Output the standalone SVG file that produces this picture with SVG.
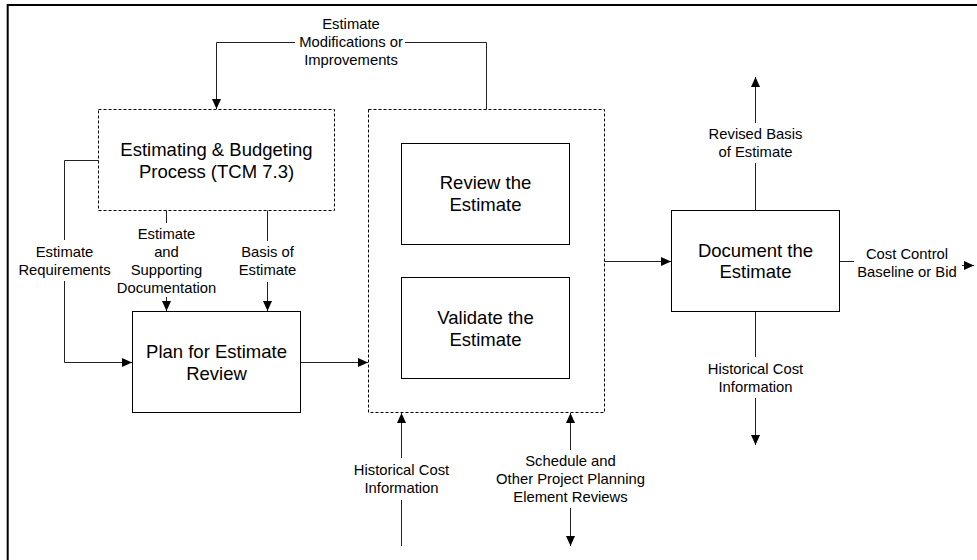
<svg xmlns="http://www.w3.org/2000/svg" width="977" height="560" viewBox="0 0 977 560">
<defs>
<marker id="ah" markerUnits="userSpaceOnUse" markerWidth="11" markerHeight="10" refX="10" refY="4.5" orient="auto">
<path d="M0,0 L10,4.5 L0,9 z" fill="#000"/>
</marker>
<style>
.box{fill:#fff;stroke:#000;stroke-width:1}
.dash{fill:none;stroke:#000;stroke-width:1;stroke-dasharray:3,2}
.big{font-family:"Liberation Sans",Arial,sans-serif;font-size:18.5px;text-anchor:middle;fill:#000}
.lbl{font-family:"Liberation Sans",Arial,sans-serif;font-size:14.8px;text-anchor:middle;fill:#000}
.con{fill:none;stroke:#222;stroke-width:1}
.arr{marker-end:url(#ah)}
</style>
</defs>
<rect x="0" y="0" width="977" height="560" fill="#fff"/>
<path d="M7.7,570 V5 H990" fill="none" stroke="#000" stroke-width="2"/>

<g id="connectors">
<path class="con arr" d="M486.5,109.5 V42.5 H405 M295,42.5 H216.5 V109"/>
<path class="con arr" d="M98.5,160.5 H64.5 V240 M64.5,281 V362.5 H132"/>
<path class="con arr" d="M166.5,210.5 V223 M166.5,297 V311"/>
<path class="con arr" d="M267.5,210.5 V241 M267.5,282 V311"/>
<path class="con arr" d="M300.5,362.5 H368"/>
<path class="con arr" d="M604.5,261.5 H671"/>
<path class="con arr" d="M755.5,210.5 V163 M755.5,123 V77"/>
<path class="con arr" d="M839.5,261.5 H854 M962,265.5 H974"/>
<path class="con arr" d="M755.5,311.5 V357 M755.5,398 V445"/>
<path class="con arr" d="M401.5,546 V500 M401.5,458 V413"/>
<path class="con arr" d="M570.5,450 V413"/>
<path class="con arr" d="M570.5,508 V546"/>
</g>

<g id="labels">
<text class="lbl" x="351" y="29.3">Estimate</text>
<text class="lbl" x="351" y="47.3">Modifications or</text>
<text class="lbl" x="351" y="65.3">Improvements</text>
<text class="lbl" x="64.5" y="257.3">Estimate</text>
<text class="lbl" x="64.5" y="275.3">Requirements</text>
<text class="lbl" x="166.5" y="239.3">Estimate</text>
<text class="lbl" x="166.5" y="257.3">and</text>
<text class="lbl" x="166.5" y="275.3">Supporting</text>
<text class="lbl" x="166.5" y="293.3">Documentation</text>
<text class="lbl" x="267.5" y="257.3">Basis of</text>
<text class="lbl" x="267.5" y="275.3">Estimate</text>
<text class="lbl" x="401.5" y="475.3">Historical Cost</text>
<text class="lbl" x="401.5" y="493.3">Information</text>
<text class="lbl" x="570.5" y="466">Schedule and</text>
<text class="lbl" x="570.5" y="484">Other Project Planning</text>
<text class="lbl" x="570.5" y="502">Element Reviews</text>
<text class="lbl" x="755.5" y="139.3">Revised Basis</text>
<text class="lbl" x="755.5" y="157.3">of Estimate</text>
<text class="lbl" x="907" y="259.3">Cost Control</text>
<text class="lbl" x="907" y="277.3">Baseline or Bid</text>
<text class="lbl" x="755.5" y="374.3">Historical Cost</text>
<text class="lbl" x="755.5" y="392.3">Information</text>
</g>

<g id="estimating">
<rect class="dash" x="98.5" y="109.5" width="236" height="101"/>
<text class="big" x="216.5" y="155.6">Estimating &amp; Budgeting</text>
<text class="big" x="216.5" y="177.6">Process (TCM 7.3)</text>
</g>

<g id="review-validate-group">
<rect class="dash" x="368.5" y="109.5" width="236" height="303"/>
</g>

<g id="review">
<rect class="box" x="401.5" y="143.5" width="168" height="101"/>
<text class="big" x="485.5" y="189">Review the</text>
<text class="big" x="485.5" y="211">Estimate</text>
</g>

<g id="validate">
<rect class="box" x="401.5" y="277.5" width="168" height="101"/>
<text class="big" x="485.5" y="323.5">Validate the</text>
<text class="big" x="485.5" y="345.5">Estimate</text>
</g>

<g id="plan">
<rect class="box" x="132.5" y="311.5" width="168" height="101"/>
<text class="big" x="216.5" y="357.5">Plan for Estimate</text>
<text class="big" x="216.5" y="379.5">Review</text>
</g>

<g id="document">
<rect class="box" x="671.5" y="210.5" width="168" height="101"/>
<text class="big" x="755.5" y="256.5">Document the</text>
<text class="big" x="755.5" y="278.2">Estimate</text>
</g>
</svg>
